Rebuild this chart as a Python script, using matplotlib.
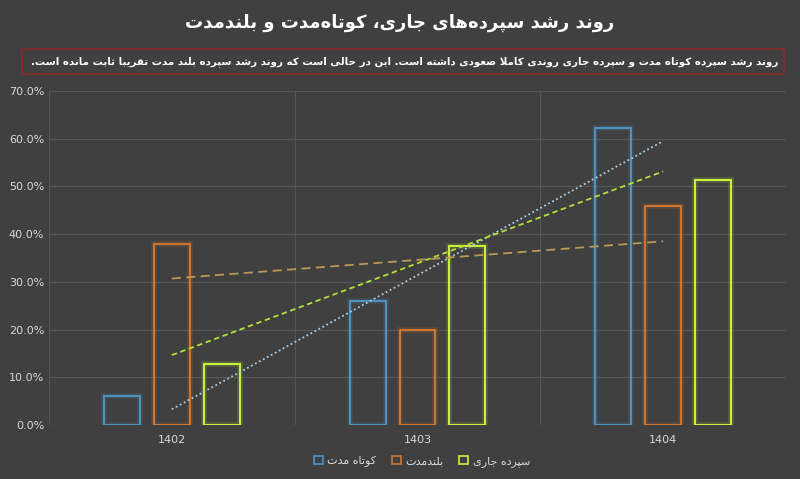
import numpy as np
import matplotlib

matplotlib.use("Agg")

import matplotlib.pyplot as plt
from matplotlib.patches import Patch, Rectangle

# data (percent)
years = ["1402", "1403", "1404"]
short_term = [6.0, 26.0, 62.2]
long_term = [38.0, 20.0, 45.8]
current_acc = [12.8, 37.6, 51.3]

series_names = ["کوتاه مدت", "بلندمدت", "سپرده جاری"]
title_text = "روند رشد سپرده\u200cهای جاری، کوتاه\u200cمدت و بلندمدت"
note_text = (
    "روند رشد سپرده کوتاه مدت و سپرده جاری روندی کاملا صعودی داشته است. "
    "این در حالی است که روند رشد سپرده بلند مدت تقریبا ثابت مانده است."
)
y_ticks = [0, 10, 20, 30, 40, 50, 60, 70]

# minimal arabic/persian shaping: isolated, final, initial, medial
FORMS = {
    "\u0627": ("\uFE8D", "\uFE8E", None, None),
    "\u0628": ("\uFE8F", "\uFE90", "\uFE91", "\uFE92"),
    "\u067E": ("\uFB56", "\uFB57", "\uFB58", "\uFB59"),
    "\u062A": ("\uFE95", "\uFE96", "\uFE97", "\uFE98"),
    "\u062B": ("\uFE99", "\uFE9A", "\uFE9B", "\uFE9C"),
    "\u062C": ("\uFE9D", "\uFE9E", "\uFE9F", "\uFEA0"),
    "\u062D": ("\uFEA1", "\uFEA2", "\uFEA3", "\uFEA4"),
    "\u062F": ("\uFEA9", "\uFEAA", None, None),
    "\u0631": ("\uFEAD", "\uFEAE", None, None),
    "\u0633": ("\uFEB1", "\uFEB2", "\uFEB3", "\uFEB4"),
    "\u0634": ("\uFEB5", "\uFEB6", "\uFEB7", "\uFEB8"),
    "\u0635": ("\uFEB9", "\uFEBA", "\uFEBB", "\uFEBC"),
    "\u0639": ("\uFEC9", "\uFECA", "\uFECB", "\uFECC"),
    "\u0642": ("\uFED5", "\uFED6", "\uFED7", "\uFED8"),
    "\u06A9": ("\uFB8E", "\uFB8F", "\uFB90", "\uFB91"),
    "\u0644": ("\uFEDD", "\uFEDE", "\uFEDF", "\uFEE0"),
    "\u0645": ("\uFEE1", "\uFEE2", "\uFEE3", "\uFEE4"),
    "\u0646": ("\uFEE5", "\uFEE6", "\uFEE7", "\uFEE8"),
    "\u0647": ("\uFEE9", "\uFEEA", "\uFEEB", "\uFEEC"),
    "\u0648": ("\uFEED", "\uFEEE", None, None),
    "\u06CC": ("\uFBFC", "\uFBFD", "\uFBFE", "\uFBFF"),
}


def _dual(ch):
    return ch in FORMS and FORMS[ch][2] is not None


def fa(text):
    """Shape persian letters and reverse into visual order."""
    out = []
    i = 0
    n = len(text)
    while i < n:
        ch = text[i]
        if ch not in FORMS:
            if ch != "\u200c":
                out.append(ch)
            i += 1
            continue
        prev = text[i - 1] if i > 0 else ""
        joins_prev = _dual(prev)
        nxt = text[i + 1] if i + 1 < n else ""
        if ch == "\u0644" and nxt == "\u0627":
            out.append("\uFEFC" if joins_prev else "\uFEFB")
            i += 2
            continue
        joins_next = _dual(ch) and nxt in FORMS
        iso, fin, ini, med = FORMS[ch]
        if joins_prev and joins_next:
            out.append(med)
        elif joins_prev:
            out.append(fin)
        elif joins_next:
            out.append(ini)
        else:
            out.append(iso)
        i += 1
    return "".join(reversed(out))


plt.rcParams["font.family"] = ["DejaVu Sans"]

bg = "#404040"
grid_color = "#565656"
text_color = "#d9d9d9"
bar_colors = ["#4f94c4", "#d2772f", "#ccf53a"]
trend_colors = ["#a9d0ea", "#b89a55", "#b2e23a"]
trend_styles = [(0, (1, 1.5)), (0, (5, 3)), (0, (3, 2))]

fig = plt.figure(figsize=(8, 4.79), dpi=100)
fig.patch.set_facecolor(bg)
ax = fig.add_axes([49 / 800, 1 - 425 / 479, 737 / 800, 334 / 479])
ax.set_facecolor(bg)

x = np.arange(len(years))
offsets = [-0.203, 0.0, 0.203]
width = 0.146
all_series = [short_term, long_term, current_acc]

for values, off, color in zip(all_series, offsets, bar_colors):
    # soft glow under the outline
    ax.bar(x + off, values, width, facecolor="none", edgecolor=color,
           linewidth=4, alpha=0.18, zorder=2)
    ax.bar(x + off, values, width, facecolor="none", edgecolor=color,
           linewidth=1.4, zorder=3)

# linear trendlines like excel
for values, color, style in zip(all_series, trend_colors, trend_styles):
    slope, intercept = np.polyfit(x, values, 1)
    ax.plot(x, slope * x + intercept, color=color, linestyle=style,
            linewidth=1.3, zorder=4)

ax.set_xlim(-0.5, 2.5)
ax.set_ylim(0, 70)
ax.set_yticks(y_ticks)
ax.set_yticklabels([f"{v:.1f}%" for v in y_ticks])
ax.set_xticks(x)
ax.set_xticklabels(years)
ax.tick_params(axis="both", length=0, colors=text_color, labelsize=8)
ax.tick_params(axis="x", pad=7)
for spine in ax.spines.values():
    spine.set_visible(False)
for yv in y_ticks:
    ax.axhline(yv, color=grid_color, linewidth=0.8, zorder=1)
for xv in [-0.5, 0.5, 1.5, 2.5]:
    ax.axvline(xv, color=grid_color, linewidth=0.8, zorder=1)

handles = [Patch(facecolor="none", edgecolor=c, linewidth=1.2) for c in bar_colors]
fig.legend(handles, [fa(s) for s in series_names], loc="center",
           bbox_to_anchor=(422 / 800, 1 - 461 / 479), ncol=3, frameon=False,
           fontsize=8, labelcolor=text_color, handlelength=0.8,
           handleheight=0.8, handletextpad=0.4, columnspacing=1.4)

fig.text(0.5, 1 - 23 / 479, fa(title_text), ha="center", va="center",
         color="white", fontsize=13, fontweight="bold")

fig.patches.append(Rectangle((22 / 800, 1 - 74 / 479), 762 / 800, 25 / 479,
                             transform=fig.transFigure, facecolor="none",
                             edgecolor="#7a2f2f", linewidth=1.5))
note = fig.text(778 / 800, 1 - 61.5 / 479, fa(note_text), ha="right",
                va="center", color="white", fontsize=8.5, fontweight="bold")

# shrink the note so it fits inside the red box (about 748 px wide)
renderer = fig.canvas.get_renderer()
note_width = note.get_window_extent(renderer).width
if note_width > 748:
    note.set_fontsize(8.5 * 748 / note_width)

fig.savefig("out.png", facecolor=fig.get_facecolor())
